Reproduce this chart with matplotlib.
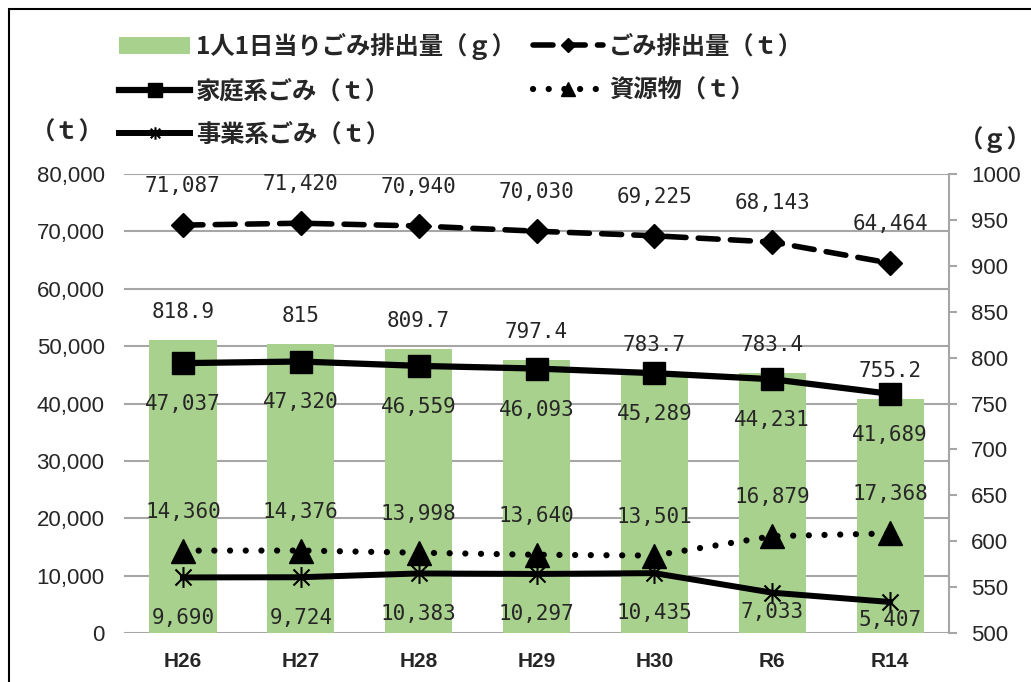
import matplotlib
matplotlib.use('Agg')
import matplotlib.pyplot as plt
from matplotlib.patches import Rectangle
from matplotlib.path import Path
from matplotlib.ticker import FuncFormatter
import numpy as np

# Data
years = ['H26', 'H27', 'H28', 'H29', 'H30', 'R6', 'R14']
per_capita_g = [818.9, 815, 809.7, 797.4, 783.7, 783.4, 755.2]
total_t = [71087, 71420, 70940, 70030, 69225, 68143, 64464]
household_t = [47037, 47320, 46559, 46093, 45289, 44231, 41689]
resources_t = [14360, 14376, 13998, 13640, 13501, 16879, 17368]
business_t = [9690, 9724, 10383, 10297, 10435, 7033, 5407]

JP = ['Noto Sans CJK JP', 'DejaVu Sans']
NUM = 'DejaVu Sans Mono'
TXT = '#262626'
GREEN = '#a9d18e'
GRID = '#a6a6a6'

# excel-like star marker: an x with a vertical stroke
star = Path([(-1, -1), (1, 1), (-1, 1), (1, -1), (0, -1.3), (0, 1.3)],
            [Path.MOVETO, Path.LINETO, Path.MOVETO, Path.LINETO, Path.MOVETO, Path.LINETO])

fig = plt.figure(figsize=(10.31, 6.82), dpi=100)
rect = [0.1203, 0.0718, 0.8002, 0.6731]
x = np.arange(len(years))

# grid / left axis
ax_grid = fig.add_axes(rect)
ax_grid.set_xlim(-0.5, len(years) - 0.5)
ax_grid.set_ylim(0, 80000)
ax_grid.set_yticks(np.arange(0, 80001, 10000))
ax_grid.yaxis.set_major_formatter(FuncFormatter(lambda v, p: f'{int(v):,}'))
ax_grid.grid(axis='y', color=GRID, lw=1.5)
ax_grid.set_xticks(x)
ax_grid.set_xticklabels(years)
ax_grid.tick_params(axis='both', length=0, colors=TXT)
ax_grid.tick_params(axis='x', pad=14, labelsize=15)
ax_grid.tick_params(axis='y', pad=14, labelsize=16)
for lab in ax_grid.get_xticklabels():
    lab.set_family('Liberation Sans')
    lab.set_weight('bold')
for lab in ax_grid.get_yticklabels():
    lab.set_family('Liberation Sans')
for s in ax_grid.spines.values():
    s.set_visible(False)

# bars on right axis
ax_bar = fig.add_axes(rect, sharex=ax_grid)
ax_bar.patch.set_visible(False)
ax_bar.set_ylim(500, 1000)
ax_bar.set_yticks(np.arange(500, 1001, 50))
ax_bar.yaxis.tick_right()
ax_bar.xaxis.set_visible(False)
for k, s in ax_bar.spines.items():
    s.set_visible(k == 'right')
ax_bar.spines['right'].set_color(GRID)
ax_bar.spines['right'].set_linewidth(1.5)
ax_bar.tick_params(axis='y', length=6, width=1.5, color=GRID, labelcolor=TXT,
                   labelsize=16, pad=10)
for lab in ax_bar.get_yticklabels():
    lab.set_family('Liberation Sans')
bars = ax_bar.bar(x, per_capita_g, width=0.57, color=GREEN, label='1人1日当りごみ排出量（ｇ）')
for xi, v in zip(x, per_capita_g):
    ax_bar.annotate(f'{v:g}', (xi, v), xytext=(0, 20), textcoords='offset points',
                    ha='center', va='center', fontsize=15, family=NUM, color=TXT)

# lines on left scale
ax = fig.add_axes(rect, sharex=ax_grid, sharey=ax_grid)
ax.patch.set_visible(False)
ax.axis('off')

l_total, = ax.plot(x, total_t, color='black', lw=4, ls=(0, (3.6, 2.2)),
                   dash_capstyle='round', marker='D', ms=12, label='ごみ排出量（ｔ）')
l_house, = ax.plot(x, household_t, color='black', lw=4.5, marker='s', ms=16,
                   label='家庭系ごみ（ｔ）')
l_res, = ax.plot(x, resources_t, color='black', lw=4.5, ls=(0, (0.01, 2.5)),
                 dash_capstyle='round', marker='^', ms=17, label='資源物（ｔ）')
l_bus, = ax.plot(x, business_t, color='black', lw=4.3, marker=star, ms=15,
                 mew=1.5, mfc='none', label='事業系ごみ（ｔ）')

bus_offsets = [-29, -29, -29, -29, -29, -14, -13]

for xi, v in zip(x, total_t):
    ax.annotate(f'{v:,}', (xi, v), xytext=(0, 28), textcoords='offset points',
                ha='center', va='center', fontsize=15, family=NUM, color=TXT)
for xi, v in zip(x, household_t):
    ax.annotate(f'{v:,}', (xi, v), xytext=(0, -29.5), textcoords='offset points',
                ha='center', va='center', fontsize=15, family=NUM, color=TXT)
for xi, v in zip(x, resources_t):
    ax.annotate(f'{v:,}', (xi, v), xytext=(0, 28), textcoords='offset points',
                ha='center', va='center', fontsize=15, family=NUM, color=TXT)
for xi, v, off in zip(x, business_t, bus_offsets):
    ax.annotate(f'{v:,}', (xi, v), xytext=(0, off), textcoords='offset points',
                ha='center', va='center', fontsize=15, family=NUM, color=TXT)

# legend
handles = [bars, l_house, l_bus, l_total, l_res]
labels = [h.get_label() for h in handles]
fig.legend(handles, labels, ncol=2, loc='upper left', bbox_to_anchor=(0.104, 0.97),
           frameon=False, prop={'family': JP, 'size': 17.5, 'weight': 'bold'},
           handlelength=2.9, handletextpad=0.25, columnspacing=0.7,
           labelspacing=0.8, markerscale=0.6, borderpad=0, labelcolor=TXT)

# unit labels
fig.text(0.065, 0.805, '（ｔ）', family=JP, fontsize=17.5, weight='bold', color=TXT,
         ha='center', va='center')
fig.text(0.965, 0.795, '（ｇ）', family=JP, fontsize=17.5, weight='bold', color=TXT,
         ha='center', va='center')

# outer frame
fig.patches.append(Rectangle((0.0092, -0.5), 2, 1.4868, transform=fig.transFigure,
                             fill=False, edgecolor='black', lw=1.5))

fig.savefig('out.png', dpi=100)
